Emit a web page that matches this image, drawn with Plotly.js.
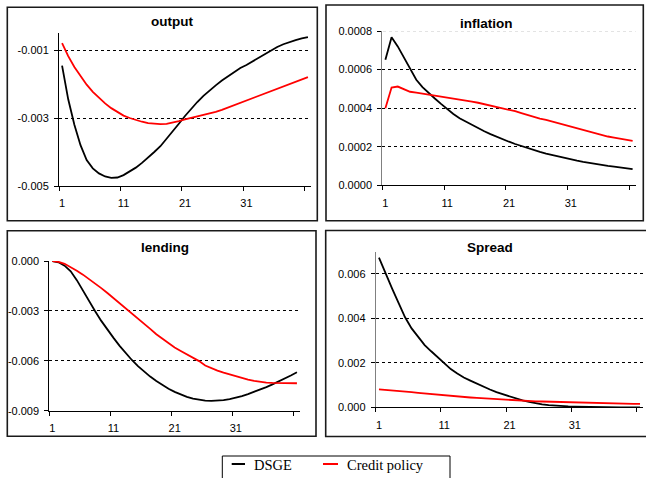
<!DOCTYPE html>
<html><head><meta charset="utf-8">
<script src="https://cdn.plot.ly/plotly-3.0.1.min.js"></script>
<style>html,body{margin:0;padding:0;background:#fff}#chart{width:646px;height:478px}</style>
</head><body><div id="chart"></div>
<script>
const periods = [1,2,3,4,5,6,7,8,9,10,11,12,13,14,15,16,17,18,19,20,21,22,23,24,25,26,27,28,29,30,31,32,33,34,35,36,37,38,39,40,41];
const xTickLabels = [1, 11, 21, 31];
const xTickMarks = [0.5, 10.5, 20.5, 30.5, 40.5];
const seriesNames = ['DSGE', 'Credit policy'];
const seriesColors = ['#000000', '#ff0000'];
const panelTitles = ['output', 'inflation', 'lending', 'Spread'];

const outputDSGE = [-0.00146,-0.00245,-0.00320,-0.00380,-0.00424,-0.00448,-0.00463,-0.00472,-0.00476,-0.00475,-0.00468,-0.00458,-0.00446,-0.00432,-0.00417,-0.00400,-0.00383,-0.00362,-0.00340,-0.00317,-0.00294,-0.00273,-0.00253,-0.00235,-0.00219,-0.00204,-0.00190,-0.00177,-0.00164,-0.00153,-0.00144,-0.00133,-0.00122,-0.00111,-0.00101,-0.00091,-0.00083,-0.00076,-0.00071,-0.00066,-0.00062];
const outputCredit = [-0.00080,-0.00118,-0.00150,-0.00178,-0.00202,-0.00223,-0.00241,-0.00257,-0.00271,-0.00283,-0.00293,-0.00300,-0.00306,-0.00311,-0.00315,-0.00317,-0.00318,-0.00317,-0.00314,-0.00309,-0.00304,-0.00300,-0.00296,-0.00292,-0.00287,-0.00282,-0.00276,-0.00269,-0.00262,-0.00255,-0.00248,-0.00241,-0.00234,-0.00227,-0.00220,-0.00213,-0.00206,-0.00199,-0.00193,-0.00186,-0.00180];

const inflationDSGE = [0.000651,0.000767,0.000720,0.000660,0.000599,0.000547,0.000509,0.000478,0.000450,0.000422,0.000395,0.000370,0.000348,0.000330,0.000312,0.000295,0.000280,0.000265,0.000251,0.000238,0.000226,0.000214,0.000203,0.000193,0.000183,0.000173,0.000164,0.000156,0.000148,0.000141,0.000134,0.000128,0.000122,0.000116,0.000111,0.000106,0.000101,0.000097,0.000092,0.000088,0.000084];
const inflationCredit = [0.000400,0.000507,0.000512,0.000500,0.000485,0.000480,0.000475,0.000470,0.000466,0.000462,0.000457,0.000452,0.000447,0.000440,0.000434,0.000428,0.000421,0.000414,0.000406,0.000400,0.000393,0.000384,0.000374,0.000364,0.000355,0.000346,0.000339,0.000330,0.000321,0.000312,0.000303,0.000294,0.000285,0.000278,0.000270,0.000261,0.000253,0.000247,0.000241,0.000234,0.000230];

const lendingDSGE = [0,-0.00008,-0.00028,-0.00062,-0.00115,-0.00180,-0.00243,-0.00302,-0.00360,-0.00413,-0.00462,-0.00510,-0.00555,-0.00595,-0.00632,-0.00665,-0.00695,-0.00722,-0.00746,-0.00768,-0.00787,-0.00803,-0.00817,-0.00828,-0.00836,-0.00840,-0.00841,-0.00840,-0.00836,-0.00830,-0.00822,-0.00812,-0.00800,-0.00787,-0.00773,-0.00758,-0.00742,-0.00725,-0.00707,-0.00688,-0.00669];
const lendingCredit = [0,-0.00005,-0.00017,-0.00036,-0.00058,-0.00082,-0.00108,-0.00135,-0.00163,-0.00192,-0.00222,-0.00254,-0.00286,-0.00317,-0.00347,-0.00377,-0.00408,-0.00440,-0.00468,-0.00495,-0.00520,-0.00541,-0.00561,-0.00580,-0.00602,-0.00628,-0.00645,-0.00659,-0.00671,-0.00682,-0.00692,-0.00703,-0.00713,-0.00721,-0.00727,-0.00731,-0.00733,-0.00734,-0.00735,-0.00735,-0.00735];

const spreadDSGE = [0.00673,0.00600,0.00535,0.00470,0.00405,0.00355,0.00315,0.00280,0.00252,0.00226,0.00200,0.00172,0.00152,0.00134,0.00120,0.00106,0.00093,0.00080,0.00068,0.00058,0.00048,0.00039,0.00031,0.00024,0.00018,0.00013,0.00010,0.00007,0.00005,0.00004,0.00003,0.00002,0.00001,0.000005,0,-0.000005,-0.00001,-0.00001,-0.00001,-0.00001,-0.00001];
const spreadCredit = [0.00081,0.00079,0.00077,0.00074,0.00071,0.00068,0.00065,0.00062,0.00059,0.00056,0.00053,0.00051,0.00049,0.00046,0.00044,0.00042,0.00040,0.00039,0.00037,0.00036,0.00035,0.00033,0.00031,0.00029,0.00027,0.00026,0.00025,0.00024,0.00023,0.00022,0.00021,0.00020,0.00019,0.00018,0.00017,0.00017,0.00016,0.00016,0.00015,0.00015,0.00015];

const outputTicks = [-0.005, -0.003, -0.001];
const outputTickText = ['-0.005', '-0.003', '-0.001'];
const inflationTicks = [0, 0.0002, 0.0004, 0.0006, 0.0008];
const inflationTickText = ['0.0000', '0.0002', '0.0004', '0.0006', '0.0008'];
const lendingTicks = [-0.009, -0.006, -0.003, 0];
const lendingTickText = ['-0.009', '-0.006', '-0.003', '0.000'];
const spreadTicks = [0, 0.002, 0.004, 0.006];
const spreadTickText = ['0.000', '0.002', '0.004', '0.006'];

const W = 646, H = 478;
const px = v => v / W;
const py = v => 1 - v / H;
const FONT = 'Liberation Sans, Arial, sans-serif';

const panels = [
  {dsge: outputDSGE, credit: outputCredit, ticks: outputTicks, text: outputTickText, range: [-0.005, -0.0005], xd: [59, 311], yd: [186, 33], yline: '#000'},
  {dsge: inflationDSGE, credit: inflationCredit, ticks: inflationTicks, text: inflationTickText, range: [0, 0.0008], xd: [382.3, 635.7], yd: [185.3, 31], yline: '#808080'},
  {dsge: lendingDSGE, credit: lendingCredit, ticks: lendingTicks, text: lendingTickText, range: [-0.009, 0], xd: [49.3, 300], yd: [410.7, 261], yline: '#000'},
  {dsge: spreadDSGE, credit: spreadCredit, ticks: spreadTicks, text: spreadTickText, range: [0, 0.007], xd: [375.7, 643.3], yd: [407.3, 251.7], yline: '#808080'}
];

const traces = [];
const layout = {
  width: W, height: H,
  margin: {l: 0, r: 0, t: 0, b: 0},
  paper_bgcolor: '#fff', plot_bgcolor: '#fff',
  showlegend: false,
  font: {family: FONT, size: 11, color: '#000'},
  shapes: [], annotations: []
};

panels.forEach((p, i) => {
  const s = i === 0 ? '' : String(i + 1);
  [p.dsge, p.credit].forEach((vals, k) => {
    traces.push({
      type: 'scatter', mode: 'lines', x: periods, y: vals,
      name: seriesNames[k], xaxis: 'x' + s, yaxis: 'y' + s,
      line: {color: seriesColors[k], width: 1.8, shape: 'linear'},
      hoverinfo: 'skip'
    });
  });
  layout['xaxis' + s] = {
    domain: [px(p.xd[0]), px(p.xd[1])], anchor: 'y' + s,
    range: [0.5, 41.5], tickmode: 'array', tickvals: xTickLabels,
    ticktext: xTickLabels.map(String), ticks: '',
    showgrid: false, zeroline: false, showline: true, linecolor: '#000', linewidth: 1,
    tickfont: {family: FONT, size: 11, color: '#000'}, ticklabelstandoff: 7,
    minor: {tickmode: 'array', tickvals: xTickMarks, ticks: 'outside', ticklen: 4, tickcolor: '#000', tickwidth: 1, showgrid: false},
    fixedrange: true
  };
  layout['yaxis' + s] = {
    domain: [py(p.yd[0]), py(p.yd[1])], anchor: 'x' + s,
    range: p.range, tickmode: 'array', tickvals: p.ticks, ticktext: p.text,
    ticks: 'outside', ticklen: 4, tickcolor: '#000', tickwidth: 1,
    showgrid: true, gridcolor: '#000', gridwidth: 1, griddash: '3px,3px',
    zeroline: false, showline: true, linecolor: p.yline, linewidth: 1,
    tickfont: {family: FONT, size: 11, color: '#000'}, ticklabelstandoff: 3,
    fixedrange: true
  };
});

// lighter top gridline (inflation 0.0008)
const topInfl = inflationTicks[inflationTicks.length - 1];
layout.shapes.push({type: 'line', layer: 'above', xref: 'paper', yref: 'y2', x0: px(383), x1: px(635.7), y0: topInfl, y1: topInfl, line: {color: '#fff', width: 1.6}});
layout.shapes.push({type: 'line', layer: 'above', xref: 'paper', yref: 'y2', x0: px(383), x1: px(635.7), y0: topInfl, y1: topInfl, line: {color: '#c8c8c8', width: 1, dash: '3px,3px'}});

// panel frames
const frames = [[7.3, 7.3, 317.3, 220.7], [326, 5, 643.3, 220.7], [7.3, 230.7, 316, 436.3], [325.7, 230.5, 650, 436.5]];
frames.forEach(f => layout.shapes.push({type: 'rect', xref: 'paper', yref: 'paper', x0: px(f[0]), x1: px(f[2]), y0: py(f[3]), y1: py(f[1]), line: {color: '#1a1a1a', width: 1.6}}));

// titles
const titlePos = [[172, 21.7], [486.7, 23.3], [165, 247.7], [490, 247.7]];
panelTitles.forEach((t, i) => layout.annotations.push({
  text: '<b>' + t + '</b>', xref: 'paper', yref: 'paper', x: px(titlePos[i][0]), y: py(titlePos[i][1]),
  xanchor: 'center', yanchor: 'middle', showarrow: false,
  font: {family: FONT, size: 13.5, color: '#000'}
}));

// legend box
layout.shapes.push({type: 'rect', xref: 'paper', yref: 'paper', x0: px(222.3), x1: px(450), y0: py(490), y1: py(456), line: {color: '#000', width: 1}});
const legendItems = [[231.7, 245, 251.7], [323, 338, 345]];
legendItems.forEach((it, k) => {
  layout.shapes.push({type: 'line', xref: 'paper', yref: 'paper', x0: px(it[0]), x1: px(it[1]), y0: py(464), y1: py(464), line: {color: seriesColors[k], width: 2}});
  layout.annotations.push({text: seriesNames[k], xref: 'paper', yref: 'paper', x: px(it[2]), y: py(465), xanchor: 'left', yanchor: 'middle', showarrow: false, font: {family: 'Liberation Serif, Times New Roman, serif', size: 14.5, color: '#000'}});
});

Plotly.newPlot('chart', traces, layout, {displayModeBar: false, staticPlot: true});
</script>
</body></html>
